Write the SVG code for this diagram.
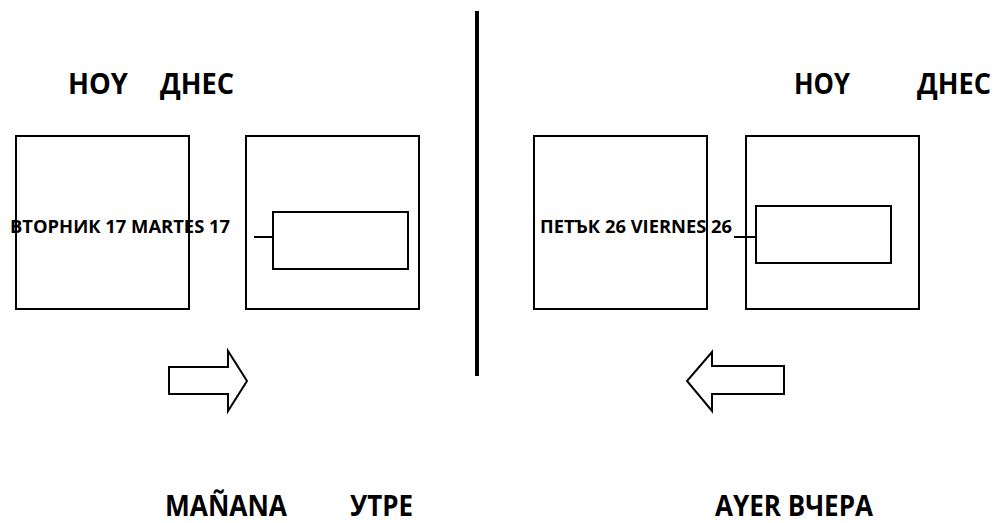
<svg xmlns="http://www.w3.org/2000/svg" width="998" height="523" viewBox="0 0 998 523">
<style>
.box{fill:none;stroke:#000;stroke-width:2}
.t{font-family:"Open Sans","Liberation Sans",sans-serif;font-weight:bold;fill:#000}
.h{font-size:29px}
.d{font-size:18px}
</style>
<rect width="998" height="523" fill="#fff"/>
<g id="divider"><line x1="477" y1="11" x2="477" y2="376" stroke="#000" stroke-width="4"/></g>
<g id="left-title"><text class="t h" x="68" y="94" textLength="60" lengthAdjust="spacingAndGlyphs">HOY</text><text class="t h" x="160" y="94" textLength="74" lengthAdjust="spacingAndGlyphs">ДНЕС</text></g>
<g id="right-title"><text class="t h" x="794" y="94" textLength="56" lengthAdjust="spacingAndGlyphs">HOY</text><text class="t h" x="917" y="94" textLength="74" lengthAdjust="spacingAndGlyphs">ДНЕС</text></g>
<g id="left-box1"><rect class="box" x="16" y="136" width="173" height="173"/></g>
<g id="left-box2"><rect class="box" x="246" y="136" width="173" height="173"/><rect class="box" x="273" y="212" width="135" height="57"/></g>
<g id="right-box1"><rect class="box" x="534" y="136" width="173" height="173"/></g>
<g id="right-box2"><rect class="box" x="746" y="136" width="173" height="173"/><rect class="box" x="756" y="206" width="135" height="57"/></g>
<g id="connectors">
<line x1="254" y1="237" x2="273" y2="237" stroke="#000" stroke-width="2"/>
<line x1="734" y1="237" x2="756" y2="237" stroke="#000" stroke-width="2"/>
</g>
<g id="left-date"><text class="t d" x="10" y="233" textLength="220" lengthAdjust="spacingAndGlyphs">ВТОРНИК 17 MARTES  17</text></g>
<g id="right-date"><text class="t d" x="540" y="233" textLength="192" lengthAdjust="spacingAndGlyphs">ПЕТЪК 26 VIERNES  26</text></g>
<g id="arrow-right"><polygon class="box" points="169,367 228,367 228,351 247,381 228,411 228,394 169,394"/></g>
<g id="arrow-left"><polygon class="box" points="784,366 712,366 712,352 687,381 712,411 712,394 784,394"/></g>
<g id="left-bottom"><text class="t h" x="165" y="516" textLength="122" lengthAdjust="spacingAndGlyphs">MAÑANA</text><text class="t h" x="350" y="516" textLength="63" lengthAdjust="spacingAndGlyphs">УТРЕ</text></g>
<g id="right-bottom"><text class="t h" x="715" y="516" textLength="158" lengthAdjust="spacingAndGlyphs">AYER ВЧЕРА</text></g>
</svg>
